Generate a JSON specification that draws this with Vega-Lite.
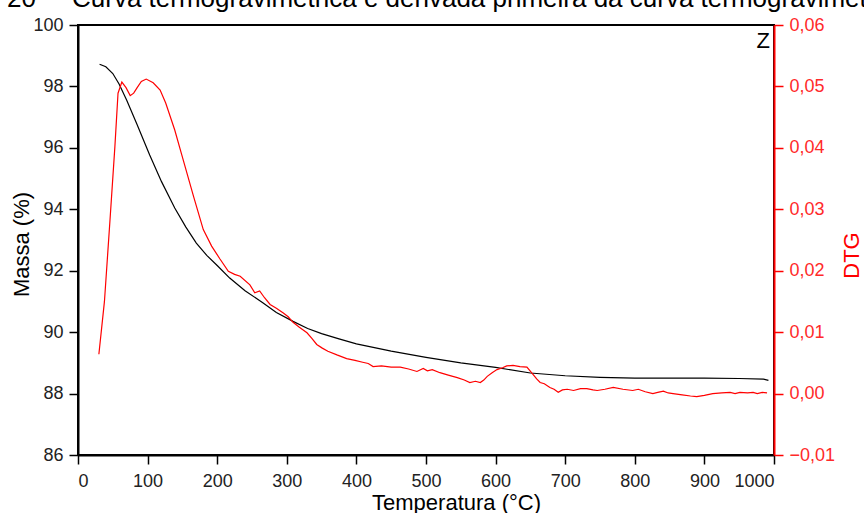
{
  "$schema": "https://vega.github.io/schema/vega-lite/v6.json",
  "width": 696,
  "height": 430,
  "autosize": {"type": "none"},
  "padding": {"left": 78, "top": 25, "right": 90, "bottom": 58},
  "background": "white",
  "title": {
    "text": "20\u00a0\u00a0\u00a0\u00a0\u00a0Curva termogravimétrica e derivada primeira da curva termogravimétrica",
    "anchor": "start",
    "frame": "group",
    "dx": -71,
    "dy": 24,
    "offset": 7,
    "baseline": "alphabetic",
    "fontSize": 26,
    "font": "Liberation Sans",
    "fontWeight": "normal",
    "color": "black"
  },
  "config": {
    "view": {"stroke": "black", "strokeWidth": 2},
    "axis": {
      "grid": false,
      "labelFont": "Liberation Sans",
      "titleFont": "Liberation Sans",
      "labelFontSize": 18,
      "titleFontSize": 22,
      "titleFontWeight": "normal",
      "domainWidth": 2,
      "tickWidth": 1.5,
      "tickSize": 9
    }
  },
  "datasets": {
    "tg": [
      {"T": 31, "massa": 98.72}, {"T": 40, "massa": 98.64}, {"T": 50, "massa": 98.42},
      {"T": 59, "massa": 98.08}, {"T": 70, "massa": 97.55}, {"T": 85, "massa": 96.75},
      {"T": 103, "massa": 95.77}, {"T": 120, "massa": 94.9}, {"T": 139, "massa": 94.04},
      {"T": 155, "massa": 93.42}, {"T": 170, "massa": 92.9}, {"T": 185, "massa": 92.5},
      {"T": 200, "massa": 92.17}, {"T": 218, "massa": 91.76}, {"T": 240, "massa": 91.35},
      {"T": 266, "massa": 90.95}, {"T": 285, "massa": 90.64}, {"T": 309, "massa": 90.35},
      {"T": 330, "massa": 90.12}, {"T": 350, "massa": 89.95}, {"T": 375, "massa": 89.78},
      {"T": 400, "massa": 89.62}, {"T": 450, "massa": 89.38}, {"T": 500, "massa": 89.18},
      {"T": 550, "massa": 89.0}, {"T": 600, "massa": 88.85}, {"T": 650, "massa": 88.67},
      {"T": 700, "massa": 88.58}, {"T": 750, "massa": 88.53}, {"T": 800, "massa": 88.5},
      {"T": 850, "massa": 88.5}, {"T": 900, "massa": 88.5}, {"T": 950, "massa": 88.49},
      {"T": 985, "massa": 88.47}, {"T": 992, "massa": 88.43}
    ],
    "dtg": [
      {"T": 30, "dtg": 0.0064}, {"T": 38, "dtg": 0.015}, {"T": 46, "dtg": 0.0283},
      {"T": 53, "dtg": 0.0402}, {"T": 57.5, "dtg": 0.0489}, {"T": 63, "dtg": 0.0507},
      {"T": 69, "dtg": 0.0498}, {"T": 75, "dtg": 0.0485}, {"T": 80, "dtg": 0.0489},
      {"T": 85, "dtg": 0.0498}, {"T": 91, "dtg": 0.0508}, {"T": 98, "dtg": 0.0512},
      {"T": 108, "dtg": 0.0506}, {"T": 118, "dtg": 0.0494}, {"T": 126, "dtg": 0.0473},
      {"T": 139, "dtg": 0.0429}, {"T": 149, "dtg": 0.0389}, {"T": 166, "dtg": 0.0321},
      {"T": 180, "dtg": 0.0267}, {"T": 192, "dtg": 0.024}, {"T": 204, "dtg": 0.0219},
      {"T": 216, "dtg": 0.0199}, {"T": 225, "dtg": 0.0194}, {"T": 233, "dtg": 0.0191},
      {"T": 247, "dtg": 0.0177}, {"T": 254, "dtg": 0.0164}, {"T": 261, "dtg": 0.0167},
      {"T": 268, "dtg": 0.0156}, {"T": 276, "dtg": 0.0145}, {"T": 285, "dtg": 0.0139},
      {"T": 295, "dtg": 0.0131}, {"T": 302, "dtg": 0.0125},
      {"T": 309, "dtg": 0.0116}, {"T": 318, "dtg": 0.0108}, {"T": 329, "dtg": 0.0099},
      {"T": 336, "dtg": 0.009}, {"T": 343, "dtg": 0.008}, {"T": 351, "dtg": 0.0074},
      {"T": 359, "dtg": 0.0069}, {"T": 372, "dtg": 0.0063}, {"T": 386, "dtg": 0.0057},
      {"T": 398, "dtg": 0.0054}, {"T": 409, "dtg": 0.0051}, {"T": 417, "dtg": 0.0049},
      {"T": 424, "dtg": 0.0044}, {"T": 436, "dtg": 0.0045}, {"T": 450, "dtg": 0.0043},
      {"T": 463, "dtg": 0.0043}, {"T": 475, "dtg": 0.004}, {"T": 487, "dtg": 0.0036},
      {"T": 496, "dtg": 0.0041}, {"T": 502, "dtg": 0.0037}, {"T": 509, "dtg": 0.0039},
      {"T": 520, "dtg": 0.0034}, {"T": 532, "dtg": 0.003}, {"T": 545, "dtg": 0.0026},
      {"T": 555, "dtg": 0.0022}, {"T": 563, "dtg": 0.0018}, {"T": 571, "dtg": 0.002},
      {"T": 578, "dtg": 0.0018}, {"T": 583, "dtg": 0.0022}, {"T": 588, "dtg": 0.0028},
      {"T": 595, "dtg": 0.0034}, {"T": 602, "dtg": 0.0039}, {"T": 610, "dtg": 0.0042},
      {"T": 616, "dtg": 0.0045}, {"T": 625, "dtg": 0.0046}, {"T": 635, "dtg": 0.0044},
      {"T": 645, "dtg": 0.0043}, {"T": 654, "dtg": 0.0031}, {"T": 659, "dtg": 0.0024},
      {"T": 664, "dtg": 0.0018}, {"T": 670, "dtg": 0.0016}, {"T": 678, "dtg": 0.001},
      {"T": 684, "dtg": 0.0007}, {"T": 690, "dtg": 0.0002}, {"T": 696, "dtg": 0.0006},
      {"T": 703, "dtg": 0.0007}, {"T": 712, "dtg": 0.0005}, {"T": 722, "dtg": 0.0008},
      {"T": 731, "dtg": 0.0008}, {"T": 740, "dtg": 0.0006}, {"T": 746, "dtg": 0.0005},
      {"T": 757, "dtg": 0.0007}, {"T": 769, "dtg": 0.001}, {"T": 783, "dtg": 0.0007},
      {"T": 797, "dtg": 0.0005}, {"T": 805, "dtg": 0.0007}, {"T": 815, "dtg": 0.0003},
      {"T": 826, "dtg": 0.0}, {"T": 833, "dtg": 0.0002}, {"T": 841, "dtg": 0.0004},
      {"T": 848, "dtg": 0.0001}, {"T": 855, "dtg": 0.0}, {"T": 868, "dtg": -0.0002},
      {"T": 880, "dtg": -0.0004}, {"T": 889, "dtg": -0.0005}, {"T": 900, "dtg": -0.0003},
      {"T": 912, "dtg": 0.0}, {"T": 925, "dtg": 0.0001}, {"T": 937, "dtg": 0.0002},
      {"T": 944, "dtg": 0.0}, {"T": 951, "dtg": 0.0002}, {"T": 962, "dtg": 0.0001},
      {"T": 970, "dtg": 0.0002}, {"T": 976, "dtg": 0.0}, {"T": 983, "dtg": 0.0002},
      {"T": 990, "dtg": 0.0001}
    ]
  },
  "layer": [
    {
      "data": {"name": "tg"},
      "mark": {"type": "line", "color": "black", "strokeWidth": 1.2},
      "encoding": {
        "x": {
          "field": "T", "type": "quantitative",
          "scale": {"domain": [0, 1000], "nice": false},
          "axis": {
            "title": "Temperatura (°C)",
            "values": [0, 100, 200, 300, 400, 500, 600, 700, 800, 900, 1000],
            "format": "d",
            "labelColor": "#222", "titleColor": "black", "domainColor": "black", "tickColor": "black",
            "labelPadding": 8,
            "titleX": 378, "titleY": 37, "titleBaseline": "top", "titleAlign": "center"
          }
        },
        "y": {
          "field": "massa", "type": "quantitative",
          "scale": {"domain": [86, 100], "nice": false, "zero": false},
          "axis": {
            "title": "Massa (%)",
            "values": [86, 88, 90, 92, 94, 96, 98, 100],
            "labelColor": "#222", "titleColor": "black", "domainColor": "black", "tickColor": "black",
            "labelPadding": 6,
            "titleX": -67, "titleY": 219, "titleBaseline": "top", "titleAlign": "center", "titleAngle": 270
          }
        }
      }
    },
    {
      "data": {"name": "dtg"},
      "mark": {"type": "line", "color": "#ff0000", "strokeWidth": 1.2},
      "encoding": {
        "x": {"field": "T", "type": "quantitative"},
        "y": {
          "field": "dtg", "type": "quantitative",
          "scale": {"domain": [-0.01, 0.06], "nice": false, "zero": false},
          "axis": {
            "orient": "right",
            "title": "DTG",
            "values": [-0.01, 0, 0.01, 0.02, 0.03, 0.04, 0.05, 0.06],
            "labelExpr": "replace(format(datum.value, '.2f'), '.', ',')",
            "labelColor": "#ff2a2a", "titleColor": "#ff0000", "domainColor": "#ff0000", "tickColor": "#ff0000",
            "labelPadding": 6,
            "titleX": 67, "titleY": 230, "titleBaseline": "top", "titleAlign": "center", "titleAngle": 270
          }
        }
      }
    },
    {
      "data": {"values": [{"T": 1000, "v": 100, "label": "Z"}]},
      "mark": {"type": "text", "align": "right", "baseline": "top", "dx": -4, "dy": 6, "fontSize": 22, "font": "Liberation Sans", "color": "black"},
      "encoding": {
        "x": {"field": "T", "type": "quantitative"},
        "y": {"field": "v", "type": "quantitative", "scale": {"domain": [86, 100], "nice": false, "zero": false}, "axis": null},
        "text": {"field": "label"}
      }
    }
  ],
  "resolve": {"scale": {"y": "independent"}}
}
